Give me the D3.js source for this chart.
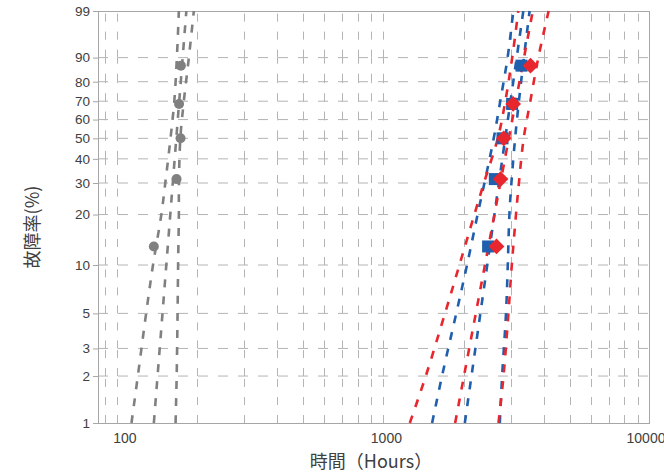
<!DOCTYPE html>
<html><head><meta charset="utf-8">
<script src="https://cdn.jsdelivr.net/npm/d3@7"></script>
<style>body{margin:0;background:#fff}svg{display:block}</style>
</head><body>
<svg id="c" width="664" height="472"></svg>
<script>
// ---- data ----
const probTicks = [1, 2, 3, 5, 10, 20, 30, 40, 50, 60, 70, 80, 90, 99];
const xLabelTicks = [100, 1000, 10000];
const xGridValues = [90, 100, 200, 300, 400, 500, 600, 700, 800, 900,
  1000, 2000, 3000, 4000, 5000, 6000, 7000, 8000, 9000];
const rankF = [12.96, 31.48, 50, 68.52, 87.04];
const grayHours = [137.7, 167.5, 173.4, 171.2, 173.9];
const blueHours = [2470, 2617, 2797, 3039, 3296];
const redHours = [2656, 2750, 2829, 3066, 3563];
const boundF = [1, 2, 5, 10, 20, 30, 50, 70, 90, 99];
const fitF = [1, 99];
const grayLower = [113.5, 119.9, 128.8, 136.7, 146.9, 152.0, 159.0, 164.3, 168.0, 170.9];
const grayFit = [137.7, 182.3];
const grayUpper = [166.1, 167.7, 169.0, 169.8, 170.9, 171.0, 173.1, 178.4, 186.3, 194.5];
const blueLower = [1523, 1659, 1876, 2059, 2256, 2393, 2593, 2743, 2923, 3071];
const blueFit = [2020, 3348];
const blueUpper = [2733, 2788, 2883, 2928, 2969, 3021, 3119, 3223, 3365, 3535];
const redLower = [1256, 1442, 1702, 1928, 2194, 2382, 2686, 2866, 3042, 3206];
const redFit = [1858, 3634];
const redUpper = [2702, 2822, 2944, 3031, 3143, 3223, 3359, 3557, 3811, 4166];
const xTitle = "時間（Hours）";
const yTitle = "故障率(%)";

// ---- layout ----
const L = 98, R = 650, T = 11, B = 423;
const svg = d3.select("#c");
const W = p => Math.log(-Math.log(1 - p / 100));
const x = d3.scaleLog().domain([85, 10000]).range([L, R]);
const yW = d3.scaleLinear().domain([W(1), W(99)]).range([B, T]);
const y = p => yW(W(p));
const gridCol = "#b4b4b4";
const textCol = "#404040";

// horizontal grid
svg.append("g").selectAll("line").data(probTicks.filter(p => p !== 1 && p !== 99)).join("line")
  .attr("x1", L).attr("x2", R).attr("y1", d => y(d)).attr("y2", d => y(d))
  .attr("stroke", gridCol).attr("stroke-width", 1).attr("stroke-dasharray", "10,10");

// vertical grid (segments between horizontal grid levels, drawn upward)
const segs = [];
xGridValues.forEach(v => {
  for (let i = 0; i < probTicks.length - 1; i++) segs.push({v, p0: probTicks[i], p1: probTicks[i + 1]});
});
svg.append("g").selectAll("line").data(segs).join("line")
  .attr("x1", d => Math.round(x(d.v)) + 0.5).attr("x2", d => Math.round(x(d.v)) + 0.5)
  .attr("y1", d => y(d.p0)).attr("y2", d => y(d.p1))
  .attr("stroke", gridCol).attr("stroke-width", 1).attr("stroke-dasharray", "8,10");

// border
svg.append("rect").attr("x", L + 0.5).attr("y", T + 0.5).attr("width", R - L - 1).attr("height", B - T)
  .attr("fill", "none").attr("stroke", "#a6a6a6").attr("stroke-width", 1);

// y ticks & labels
const yAx = svg.append("g");
yAx.selectAll("line").data(probTicks).join("line")
  .attr("x1", L - 5).attr("x2", L).attr("y1", d => y(d) + 0.5).attr("y2", d => y(d) + 0.5)
  .attr("stroke", "#a6a6a6");
yAx.selectAll("text").data(probTicks).join("text")
  .attr("x", L - 8).attr("y", d => y(d)).attr("dy", "0.36em").attr("text-anchor", "end")
  .attr("font-family", "Liberation Sans, Arial, sans-serif").attr("font-size", 13.5)
  .attr("fill", textCol).text(d => d);

// x labels
const xLabOff = [8, 3, -4];
svg.append("g").selectAll("text").data(xLabelTicks).join("text")
  .attr("x", (d, i) => x(d) + xLabOff[i]).attr("y", 443).attr("text-anchor", "middle")
  .attr("font-family", "Liberation Sans, Arial, sans-serif").attr("font-size", 14)
  .attr("fill", textCol).text(d => d);

// titles
svg.append("text").attr("x", 371).attr("y", 468).attr("text-anchor", "middle")
  .attr("font-family", "Noto Sans CJK JP, sans-serif").attr("font-size", 18).attr("fill", textCol).text(xTitle);
svg.append("text").attr("transform", "translate(39,227) rotate(-90)").attr("text-anchor", "middle")
  .attr("font-family", "Noto Sans CJK JP, sans-serif").attr("font-size", 18).attr("fill", textCol).text(yTitle);

// lines
const line = d3.line().x(d => x(d[0])).y(d => y(d[1])).curve(d3.curveCatmullRom);
const series = [
  {col: "#808080", lines: [[grayLower, boundF], [grayFit, fitF], [grayUpper, boundF]]},
  {col: "#1f5fad", lines: [[blueLower, boundF], [blueFit, fitF], [blueUpper, boundF]]},
  {col: "#e8262d", lines: [[redLower, boundF], [redFit, fitF], [redUpper, boundF]]}
];
const lg = svg.append("g");
series.forEach(s => {
  s.lines.forEach(([hs, fs]) => {
    lg.append("path").datum(hs.map((h, i) => [h, fs[i]]))
      .attr("d", line).attr("fill", "none").attr("stroke", s.col)
      .attr("stroke-width", 2.6).attr("stroke-dasharray", "8,9");
  });
});

// markers
svg.append("g").selectAll("circle").data(grayHours.map((h, i) => [h, rankF[i]])).join("circle")
  .attr("cx", d => x(d[0])).attr("cy", d => y(d[1])).attr("r", 5).attr("fill", "#808080");
svg.append("g").selectAll("rect").data(blueHours.map((h, i) => [h, rankF[i]])).join("rect")
  .attr("x", d => x(d[0]) - 6).attr("y", d => y(d[1]) - 6).attr("width", 12).attr("height", 12)
  .attr("fill", "#1f5fad");
svg.append("g").selectAll("path").data(redHours.map((h, i) => [h, rankF[i]])).join("path")
  .attr("d", d3.symbol().type(d3.symbolSquare).size(125))
  .attr("transform", d => `translate(${x(d[0])},${y(d[1])}) rotate(45)`)
  .attr("fill", "#e8262d");
</script>
</body></html>
